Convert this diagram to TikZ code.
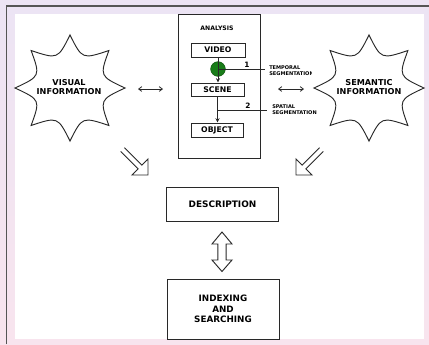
\documentclass[tikz,border=0pt]{standalone}
\usepackage{fontspec}
\setmainfont{DejaVu Sans}
\usetikzlibrary{arrows.meta,calc}
\definecolor{bgtop}{RGB}{236,228,244}
\definecolor{bgbot}{RGB}{248,228,238}
\definecolor{edge}{RGB}{40,40,40}
\definecolor{dotgreen}{RGB}{25,125,25}
\definecolor{framegray}{RGB}{85,85,85}
\tikzset{
  lbl/.style={inner sep=0pt, align=center, text=black},
  boxst/.style={draw=edge, line width=0.75pt, inner sep=0pt, minimum width=40.5pt, minimum height=10.5pt, font=\bfseries\fontsize{5.8}{7}\selectfont},
  bigbox/.style={draw=edge, line width=0.75pt, inner sep=0pt, align=center, minimum width=83.5pt},
  starline/.style={draw=edge, line width=0.7pt},
  thinline/.style={draw=edge, line width=0.6pt},
  hollow/.style={draw=edge, line width=0.7pt, line join=miter},
  smalltxt/.style={inner sep=0pt, align=left, anchor=west, font=\bfseries\fontsize{3.8}{4.6}\selectfont},
  starburst/.pic={\draw[starline] (0:55 and 53) \foreach \a in {0,45,...,270}{ .. controls (\a+22.5:32 and 31) .. (\a+45:55 and 53)} .. controls (337.5:32 and 31) .. cycle;}
}
\begin{document}
\begin{tikzpicture}[x=0.75pt,y=-0.75pt]
% background
\shade[top color=bgtop, bottom color=bgbot] (0,0) rectangle (429,344);
\useasboundingbox (0,0) rectangle (429,344);
\fill[white] (15,14) rectangle (424,339);
\draw[framegray, line width=1.4pt] (6.5,344) -- (6.5,6) -- (429,6);

% analysis block
\node[draw=edge, line width=0.75pt, minimum width=61.5pt, minimum height=108pt, inner sep=0pt] (analysis) at (219,86) {};
\node[lbl, font=\bfseries\fontsize{4.6}{5.5}\selectfont] (antitle) at (217,28) {ANALYSIS};
\node[boxst] (video) at (218,50) {VIDEO};
\node[boxst, minimum width=39.75pt, minimum height=9.75pt] (scene) at (217.5,89.5) {SCENE};
\node[boxst, minimum width=39pt] (object) at (217,130) {OBJECT};
\node[circle, fill=dotgreen, draw=dotgreen!70!black, line width=0.4pt, minimum size=11pt, inner sep=0pt] (dot) at (218,69) {};

\coordinate (t1) at (265,69);
\coordinate (s2) at (217,110);
\coordinate (t2) at (267,110);
\draw[thinline, -{Stealth[length=3.2pt, width=3pt]}] (video.south) -- (video.south |- scene.north);
\draw[thinline, -{Stealth[length=3.2pt, width=3pt]}] (scene.south) -- (scene.south |- object.north);
\draw[thinline] (dot.center) -- (t1);
\draw[thinline] (s2) -- (t2);
\node[lbl, font=\bfseries\fontsize{5.5}{6}\selectfont] (n1) at (247,65) {1};
\node[lbl, font=\bfseries\fontsize{5.5}{6}\selectfont] (n2) at (248,106) {2};
\begin{scope}
\clip (262,55) rectangle (311.8,80);
\node[smalltxt] (temporal) at (269,70.5) {TEMPORAL\\SEGMENTATION};
\end{scope}
\node[smalltxt] (spatial) at (272,109.5) {SPATIAL\\SEGMENTATION};

% starbursts
\node[lbl, font=\bfseries\fontsize{6.1}{6.75}\selectfont] (visual) at (69,87.5) {VISUAL\\INFORMATION};
\pic at (70,88) {starburst};
\node[lbl, font=\bfseries\fontsize{6.1}{6.75}\selectfont] (semantic) at (369,87.5) {SEMANTIC\\INFORMATION};
\pic at (369,88) {starburst};

% small double arrows
\coordinate (va1) at (138,89);
\coordinate (va2) at (163,89);
\coordinate (sa1) at (278,89);
\coordinate (sa2) at (304,89);
\draw[thinline, {Straight Barb[length=2.4pt,width=3.6pt]}-{Straight Barb[length=2.4pt,width=3.6pt]}] (va1) -- (va2);
\draw[thinline, {Straight Barb[length=2.4pt,width=3.6pt]}-{Straight Barb[length=2.4pt,width=3.6pt]}] (sa1) -- (sa2);

% hollow diagonal arrows
\draw[hollow] (120.6,151.4) -- (138.1,168.9) -- (132,175) -- (148,175) -- (148,159) -- (141.9,165.1) -- (124.4,147.6);
\draw[hollow] (323.4,151.4) -- (305.9,168.9) -- (312,175) -- (296,175) -- (296,159) -- (302.1,165.1) -- (319.6,147.6);

% description and indexing
\node[bigbox, minimum height=25.5pt, font=\bfseries\fontsize{6.7}{8}\selectfont] (desc) at (222.5,204) {DESCRIPTION};
\node[bigbox, minimum width=84pt, minimum height=45pt, font=\bfseries\fontsize{6.6}{7.9}\selectfont] (index) at (223,309) {INDEXING\\AND\\SEARCHING};

% vertical hollow double arrow
\draw[hollow] (222,232) -- (232,244) -- (226.2,244) -- (226.2,260) -- (232,260) -- (222,271.5) -- (212,260) -- (217.8,260) -- (217.8,244) -- (212,244) -- cycle;
\end{tikzpicture}
\end{document}
